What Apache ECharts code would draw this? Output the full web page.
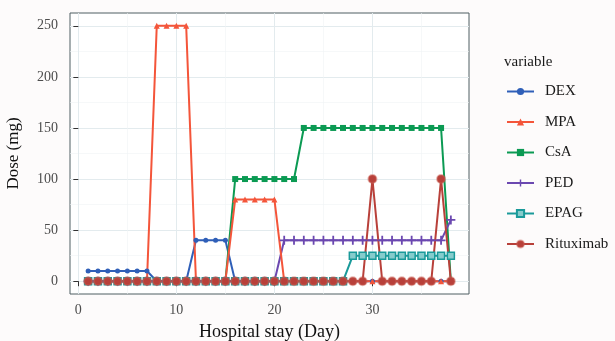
<!DOCTYPE html>
<html>
<head>
<meta charset="utf-8">
<script src="https://cdn.jsdelivr.net/npm/echarts@6/dist/echarts.min.js"></script>
<style>
  html, body { margin: 0; padding: 0; background: #fdfbfb; }
  #chart { width: 615px; height: 341px; }
</style>
</head>
<body>
<div id="chart"></div>
<script>
// hospital day 1..38
const days = [1,2,3,4,5,6,7,8,9,10,11,12,13,14,15,16,17,18,19,20,21,22,23,24,25,26,27,28,29,30,31,32,33,34,35,36,37,38];
const dex = [10,10,10,10,10,10,10,0,0,0,0,40,40,40,40,0,0,0,0,0,0,0,0,0,0,0,0,0,0,0,0,0,0,0,0,0,0,0];
const mpa = [0,0,0,0,0,0,0,250,250,250,250,0,0,0,0,80,80,80,80,80,0,0,0,0,0,0,0,0,0,0,0,0,0,0,0,0,0,0];
const csa = [0,0,0,0,0,0,0,0,0,0,0,0,0,0,0,100,100,100,100,100,100,100,150,150,150,150,150,150,150,150,150,150,150,150,150,150,150,0];
const ped = [0,0,0,0,0,0,0,0,0,0,0,0,0,0,0,0,0,0,0,0,40,40,40,40,40,40,40,40,40,40,40,40,40,40,40,40,40,60];
const epag = [0,0,0,0,0,0,0,0,0,0,0,0,0,0,0,0,0,0,0,0,0,0,0,0,0,0,0,25,25,25,25,25,25,25,25,25,25,25];
const ritux = [0,0,0,0,0,0,0,0,0,0,0,0,0,0,0,0,0,0,0,0,0,0,0,0,0,0,0,0,0,100,0,0,0,0,0,0,100,0];
const xTicks = [0, 10, 20, 30];
const xMinor = [5, 15, 25, 35];
const yTicks = [0, 50, 100, 150, 200, 250];
const yMinor = [25, 75, 125, 175, 225];

const chart = echarts.init(document.getElementById('chart'));
const serif = 'Liberation Serif';
const plus = 'path://M4,0h2v4h4v2h-4v4h-2v-4h-4v-2h4z';

function pairs(vals) {
  return days.map((d, i) => [d, vals[i]]);
}
function mkSeries(name, vals, color, symbol, size, extra) {
  return Object.assign({
    name: name,
    type: 'line',
    data: pairs(vals),
    symbol: symbol,
    symbolSize: size,
    showAllSymbol: true,
    lineStyle: { color: color, width: 2 },
    itemStyle: { color: color },
    emphasis: { disabled: true },
  }, extra || {});
}

const gridLine = (c, w) => ({ show: true, lineStyle: { color: c, width: w } });

const option = {
  animation: false,
  backgroundColor: '#fdfbfb',
  grid: {
    left: 70, right: 146, top: 13, bottom: 47, outerBoundsMode: 'none',
    show: true, backgroundColor: '#ffffff', borderColor: '#4f5f63', borderWidth: 1,
  },
  title: {
    text: 'variable', left: 499, top: 50,
    textStyle: { fontFamily: serif, fontSize: 15, fontWeight: 'normal', color: '#1a1a1a' },
  },
  legend: {
    orient: 'vertical', left: 501, top: 79,
    itemWidth: 27, itemHeight: 9, itemGap: 15.5,
    textStyle: { fontFamily: serif, fontSize: 15, color: '#1a1a1a', padding: [0, 0, 0, 6] },
    data: ['DEX', 'MPA', 'CsA', 'PED', 'EPAG', 'Rituximab'],
  },
  xAxis: [
    {
      type: 'value', min: -0.85, max: 39.85,
      name: 'Hospital stay (Day)', nameLocation: 'middle', nameGap: 29,
      nameTextStyle: { fontFamily: serif, fontSize: 18, color: '#111' },
      axisLine: { show: false },
      axisTick: { show: true, customValues: xTicks, length: 5, lineStyle: { color: '#333' } },
      axisLabel: { customValues: xTicks, fontFamily: serif, fontSize: 14, color: '#4d4d4d', margin: 9 },
      splitLine: gridLine('#e3ebee', 1),
    },
    {
      type: 'value', min: -0.85, max: 39.85, position: 'bottom',
      axisLine: { show: false },
      axisTick: { show: false, customValues: xMinor },
      axisLabel: { show: false, customValues: xMinor },
      splitLine: gridLine('#f0f4f5', 0.6),
    },
  ],
  yAxis: [
    {
      type: 'value', min: -12.5, max: 262.5,
      name: 'Dose (mg)', nameLocation: 'middle', nameGap: 48, nameRotate: 90,
      nameTextStyle: { fontFamily: serif, fontSize: 17, color: '#111' },
      axisLine: { show: false },
      axisTick: { show: true, customValues: yTicks, length: 5, lineStyle: { color: '#333' } },
      axisLabel: { customValues: yTicks, fontFamily: serif, fontSize: 14, color: '#4d4d4d', margin: 12 },
      splitLine: gridLine('#e3ebee', 1),
    },
    {
      type: 'value', min: -12.5, max: 262.5,
      axisLine: { show: false },
      axisTick: { show: false, customValues: yMinor },
      axisLabel: { show: false, customValues: yMinor },
      splitLine: gridLine('#f0f4f5', 0.6),
    },
  ],
  series: [
    mkSeries('DEX', dex, '#2f5fb8', 'circle', 5),
    mkSeries('CsA', csa, '#0b9a53', 'rect', 6),
    mkSeries('PED', ped, '#6b48b0', plus, 9),
    mkSeries('EPAG', epag, '#1a9a9a', 'rect', 7, { itemStyle: { color: '#86cccc', borderWidth: 1.5, borderColor: '#1a9a9a' } }),
    mkSeries('MPA', mpa, '#f4553a', 'triangle', 6),
    mkSeries('Rituximab', ritux, '#b8403a', 'circle', 8, {
      itemStyle: { color: '#b8403a', borderColor: 'rgba(200,90,80,0.45)', borderWidth: 2 },
    }),
  ],
};
chart.setOption(option);
</script>
</body>
</html>
